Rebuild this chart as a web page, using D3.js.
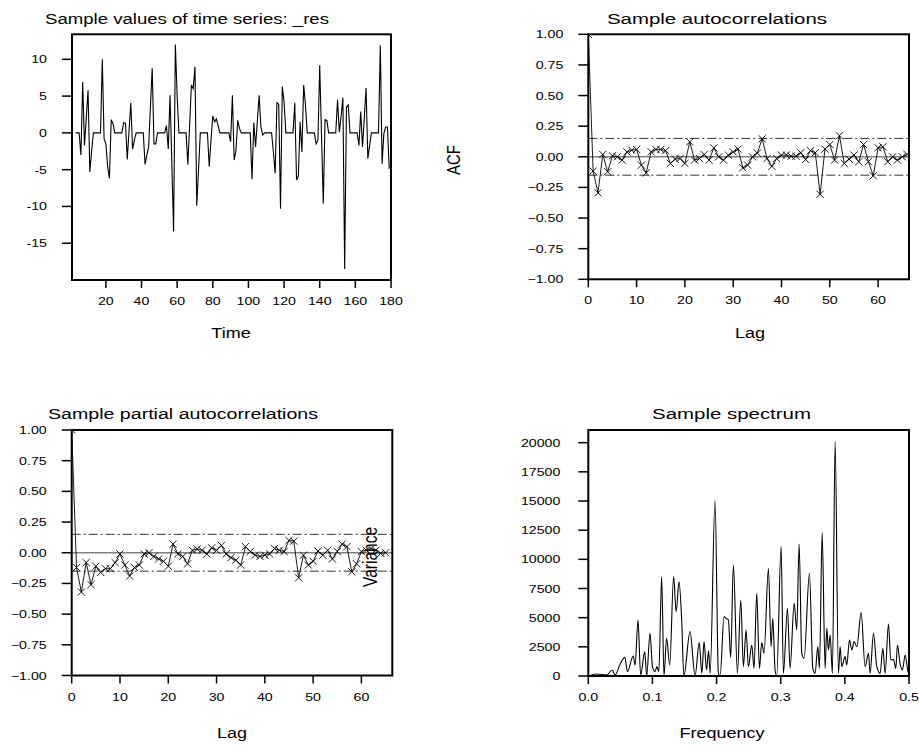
<!DOCTYPE html>
<html><head><meta charset="utf-8">
<script src="https://cdn.jsdelivr.net/npm/d3@7"></script>
<style>body{margin:0;background:#fff}svg{display:block}text{font-family:Arial,"Liberation Sans",sans-serif;fill:#000}</style>
</head><body><svg id="c" width="919" height="750"></svg>
<script>
// ---------- DATA ----------
const tsStart = 3;
const tsValues = [0,0,0,-3.0,6.9,-1.7,2.0,5.8,-5.3,-2.5,0,0,0,0,0,10.0,-0.8,-1.5,-4.6,-6.2,1.8,1.3,0,0,0,0,0,1.4,1.3,-3.6,0.3,4.1,-2.2,-1.0,0,0,0,0,0,-4.3,-3.0,-1.9,3.5,8.8,-1.5,-1.5,0,0,0,0,0,1.0,-2.2,5.1,-4.0,-13.4,12.0,5.0,0,0,0,0,0,-4.3,1.0,6.5,6.0,9.0,-9.9,-5.0,0,0,0,0,0,-4.6,-1.0,2.3,1.5,1.9,1.0,0,0,0,0,0,0,-1.2,5.1,-3.7,-2.4,1.7,0.6,0,0,0,0,0,0,-6.3,1.4,-1.9,1.6,5.1,0.8,-0.3,0,0,0,0,0,-2.6,-5.5,4.1,3.9,-10.3,6.3,4.2,0,0,0,0,0,4.1,-6.4,-5.9,1.5,-2.6,6.5,3.8,0,0,0,0,0,-1.5,-1.0,9.2,-0.3,-9.6,1.8,1.7,0,0,0,0,0,4.5,0.1,2.2,4.8,-18.5,3.5,3.8,0,0,0,0,0,-1.7,2.9,-1.9,2.0,6.1,-3.5,-1.7,0,0,0,0,0,11.9,-4.2,-0.1,0.8,0.8,-4.9];
const tsTicks = [20,40,60,80,100,120,140,160,180];
const tsYTicks = [-15,-10,-5,0,5,10];

const acfValues = [1.0,-0.117,-0.294,0.019,-0.122,0.008,0.0,-0.027,0.04,0.054,0.06,-0.068,-0.131,0.041,0.06,0.06,0.05,-0.054,-0.019,-0.014,-0.054,0.122,-0.027,-0.014,0.019,-0.027,0.072,0.0,-0.027,0.014,0.04,0.063,-0.09,-0.068,0.0,0.03,0.147,-0.014,-0.078,-0.014,0.014,0.014,0.005,0.005,0.033,-0.022,0.05,0.033,-0.306,0.063,0.1,-0.027,0.172,-0.054,-0.019,0.014,-0.041,0.1,-0.04,-0.155,0.073,0.082,-0.04,0.0,-0.027,0.0,0.019];
const pacfValues = [1.0,-0.12,-0.32,-0.08,-0.26,-0.11,-0.16,-0.13,-0.13,-0.08,-0.01,-0.10,-0.19,-0.12,-0.10,-0.01,0.0,-0.03,-0.05,-0.07,-0.11,0.07,-0.01,-0.03,-0.09,0.02,0.03,0.02,-0.01,0.04,0.02,0.06,-0.01,-0.04,-0.06,-0.10,0.05,0.01,-0.02,-0.03,-0.02,-0.01,0.035,0.02,0.01,0.10,0.095,-0.204,-0.02,-0.10,-0.07,0.014,-0.02,0.02,-0.05,0.01,0.07,0.05,-0.155,-0.09,0.01,0.02,0.035,0.02,-0.005,0.0];
const confBand = 0.15;
const lagTicks = [0,10,20,30,40,50,60];
const corrTicks = [-1,-0.75,-0.5,-0.25,0,0.25,0.5,0.75,1];

const specFreq = [0,0.013,0.029,0.037,0.042,0.049,0.057,0.061,0.070,0.073,0.0775,0.0816,0.088,0.091,0.0962,0.100,0.104,0.107,0.110,0.1144,0.118,0.122,0.127,0.133,0.137,0.1414,0.1456,0.149,0.1586,0.1664,0.173,0.177,0.1805,0.1843,0.1875,0.190,0.1976,0.2028,0.2055,0.2117,0.2148,0.2184,0.222,0.2262,0.2325,0.2377,0.2418,0.246,0.2496,0.2548,0.2584,0.2626,0.2668,0.2704,0.274,0.2808,0.285,0.2876,0.2912,0.2938,0.3006,0.3042,0.3105,0.3146,0.3209,0.325,0.3287,0.3328,0.3364,0.3448,0.350,0.3536,0.3578,0.3604,0.3646,0.3692,0.3718,0.3744,0.377,0.3806,0.3848,0.390,0.3926,0.3952,0.4004,0.403,0.4072,0.4108,0.4144,0.4186,0.4254,0.4316,0.4368,0.4394,0.4446,0.4498,0.455,0.4592,0.4628,0.468,0.4716,0.4758,0.4794,0.482,0.486,0.4898,0.494,0.4992,0.5];
const specValues = [0,171,86,514,86,943,1600,371,1714,943,4800,86,2086,0,3657,800,371,800,371,8514,0,3228,943,8514,5514,8086,4800,0,3800,0,2857,229,2943,514,2157,229,15086,229,0,5086,4943,4800,1600,9514,229,6514,800,3943,800,2657,657,7086,657,2857,1943,9228,2514,4943,514,0,11086,229,5800,657,6228,3943,11314,1943,1514,8800,657,229,2514,657,12286,657,4086,2228,3514,229,20086,229,2514,800,1657,943,3086,2228,2943,2514,5428,800,1943,229,3657,800,229,2371,229,4457,1371,1428,657,2657,1086,514,1800,229,657];
const specTicks = [0,0.1,0.2,0.3,0.4,0.5];
const specYTicks = [0,2500,5000,7500,10000,12500,15000,17500,20000];

const titles = ["Sample values of time series: _res","Sample autocorrelations","Sample partial autocorrelations","Sample spectrum"];

// ---------- DRAW ----------
const svg = d3.select("#c");

function txt(x, y, s, size, anchor, sx, rot, len) {
  const t = svg.append("text").attr("font-size", size).attr("text-anchor", anchor || "start").text(s);
  if (len) t.attr("textLength", len).attr("lengthAdjust", "spacingAndGlyphs");
  if (rot) t.attr("transform", `translate(${x},${y}) rotate(-90) scale(1,${sx})`);
  else t.attr("transform", `translate(${x},${y}) scale(${sx},1)`);
  return t;
}

function panel(id, xs, ys, xt, xfmt, yt, yfmt, labGap) {
  const g = svg.append("g");
  const [x0, x1] = xs.range(), [y0, y1] = ys.range();
  yt.forEach(v => {
    g.append("line").attr("x1", x0 - 10).attr("x2", x0).attr("y1", ys(v)).attr("y2", ys(v)).attr("stroke", "#000").attr("stroke-width", 1.5);
    txt(x0 - labGap, ys(v) + 4, yfmt(v), 10.5, "end", 1.35);
  });
  xt.forEach(v => {
    g.append("line").attr("x1", xs(v)).attr("x2", xs(v)).attr("y1", y0).attr("y2", y0 + 8).attr("stroke", "#000").attr("stroke-width", 1.5);
    txt(xs(v), y0 + 25, xfmt(v), 10.5, "middle", 1.35);
  });
  svg.append("clipPath").attr("id", "clip" + id).append("rect").attr("x", x0).attr("y", y1).attr("width", x1 - x0).attr("height", y0 - y1);
  const inner = svg.append("g").attr("clip-path", `url(#clip${id})`);
  svg.append("rect").attr("x", x0).attr("y", y1).attr("width", x1 - x0).attr("height", y0 - y1).attr("fill", "none").attr("stroke", "#000").attr("stroke-width", 2);
  return inner;
}

// Panel 1: time series
{
  const xs = d3.scaleLinear().domain([1, 180]).range([72, 391]);
  const ys = d3.scaleLinear().domain([-20, 13.4]).range([280, 34.3]);
  const g = panel(1, xs, ys, tsTicks, d => d, tsYTicks, d => d, 25);
  const pts = tsValues.map((v, i) => [tsStart + i, v]);
  g.append("path").attr("d", d3.line().x(d => xs(d[0])).y(d => ys(d[1]))(pts)).attr("fill", "none").attr("stroke", "#000").attr("stroke-width", 1.1);
}

function corrPanel(id, values, xr, yr) {
  const xs = d3.scaleLinear().domain([0, 66.4]).range(xr);
  const ys = d3.scaleLinear().domain([-1, 1]).range(yr);
  const g = panel(id, xs, ys, lagTicks, d => d, corrTicks, d => d3.format(".2f")(d), 25);
  g.append("line").attr("x1", xr[0]).attr("x2", xr[1]).attr("y1", ys(0)).attr("y2", ys(0)).attr("stroke", "#808080").attr("stroke-width", 1.6);
  [confBand, -confBand].forEach(b => g.append("line").attr("x1", xr[0]).attr("x2", xr[1]).attr("y1", ys(b)).attr("y2", ys(b)).attr("stroke", "#333").attr("stroke-width", 1).attr("stroke-dasharray", "9,3,2,3"));
  const pts = values.map((v, i) => [i, v]);
  g.append("path").attr("d", d3.line().x(d => xs(d[0])).y(d => ys(d[1]))(pts)).attr("fill", "none").attr("stroke", "#000").attr("stroke-width", 0.9);
  const s = 3.6;
  pts.forEach(d => {
    const cx = xs(d[0]), cy = ys(d[1]);
    g.append("path").attr("d", `M${cx - s},${cy - s}L${cx + s},${cy + s}M${cx - s},${cy + s}L${cx + s},${cy - s}`).attr("stroke", "#000").attr("stroke-width", 0.9);
  });
}
corrPanel(2, acfValues, [588.3, 909], [279.3, 34.3]);
corrPanel(3, pacfValues, [71.7, 392.3], [675.5, 430]);

// Panel 4: spectrum
{
  const xs = d3.scaleLinear().domain([0, 0.5]).range([588.3, 909]);
  const ys = d3.scaleLinear().domain([0, 21086]).range([676, 430]);
  const g = panel(4, xs, ys, specTicks, d => d3.format(".1f")(d), specYTicks, d => d, 28);
  const pts = specFreq.map((f, i) => [f, specValues[i]]);
  g.append("path").attr("d", d3.line().curve(d3.curveMonotoneX).x(d => xs(d[0])).y(d => ys(d[1]))(pts)).attr("fill", "none").attr("stroke", "#000").attr("stroke-width", 1.1);
}

// titles & labels
txt(45, 24, titles[0], 15.5, "start", 1, false, 284);
txt(607, 24, titles[1], 15.5, "start", 1, false, 220);
txt(48, 419, titles[2], 15.5, "start", 1, false, 270);
txt(652, 419, titles[3], 15.5, "start", 1, false, 159);
txt(231, 338, "Time", 15, "middle", 1.2);
txt(750, 338, "Lag", 15, "middle", 1.2);
txt(232, 738, "Lag", 15, "middle", 1.2);
txt(722, 738, "Frequency", 15, "middle", 1.2);
txt(460, 160, "ACF", 15, "middle", 1.2, true);
txt(377, 557, "Variance", 15.5, "middle", 1.25, true);
</script></body></html>
